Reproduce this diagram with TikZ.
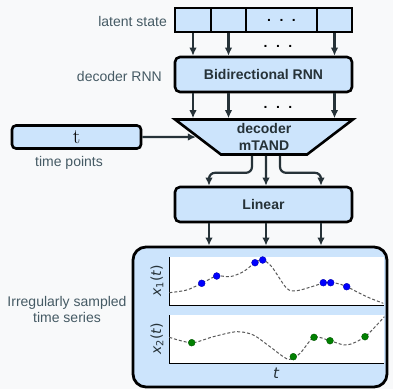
\documentclass[tikz,border=0pt]{standalone}
\usepackage{fontspec}
\setsansfont{Liberation Sans}
\newfontfamily\plotfont{DejaVu Sans}
\usepackage{tikz}
\usetikzlibrary{shapes.geometric}
\usetikzlibrary{arrows.meta}
\tikzset{>={Latex[width=7.5pt,length=8pt]}}
\definecolor{boxblue}{RGB}{204,228,252}
\definecolor{inkc}{RGB}{38,50,56}
\definecolor{lblc}{RGB}{69,90,100}
\definecolor{bgc}{RGB}{248,249,250}
\tikzset{
  blk/.style={draw=black, line width=2.6pt, fill=boxblue, rounded corners=5pt,
    font=\sffamily\bfseries\fontsize{14}{16}\selectfont, text=inkc},
  cell/.style={draw=black, line width=2.6pt, fill=boxblue, minimum height=24pt, inner sep=0pt},
  lbl/.style={font=\sffamily\fontsize{14}{16}\selectfont, text=lblc, inner sep=0pt},
  arr/.style={->, line width=2.2pt, draw=inkc},
  curve/.style={dash pattern=on 3pt off 2pt, line width=1pt, draw=black!65},
  axlbl/.style={rotate=90, font=\plotfont\fontsize{14}{14}\selectfont, text=inkc, inner sep=0pt},
}
\newcommand{\dotrow}{{\sffamily\bfseries\fontsize{14}{16}\selectfont .\hspace{8.5pt}.\hspace{8.5pt}.}}

\begin{document}
\begin{tikzpicture}[x=1pt, y=-1pt]
    \fill[bgc] (0,0) rectangle (393,389);
    \useasboundingbox (0,0) rectangle (393,389);

    % latent state row
    \node[cell, minimum width=36pt] (ls1) at (193,20) {};
    \node[cell, minimum width=35pt] (ls2) at (228.5,20) {};
    \node[cell, minimum width=71pt] (ls3) at (281.5,20) {\dotrow};
    \node[cell, minimum width=35pt] (ls4) at (334.5,20) {};
    \node[lbl, anchor=east] (lslbl) at (167,21.5) {latent state};

    \node (dots1) at (278,46) {\dotrow};

    \node[blk, minimum width=177pt, minimum height=35pt] (rnn) at (263.5,74.5) {Bidirectional RNN};
    \node[lbl, anchor=east] (rnnlbl) at (162,76) {decoder RNN};

    \node (dots2) at (278,107) {\dotrow};

    \node[draw=black, line width=2.6pt, fill=boxblue, trapezium, shape border rotate=180,
      trapezium angle=45, trapezium stretches=true, minimum width=178pt, minimum height=35pt,
      inner sep=2pt, align=center, text=inkc,
      font=\sffamily\bfseries\fontsize{14}{17}\selectfont] (dec) at (264,137) {decoder\\mTAND};

    \node[blk, rounded corners=4pt, minimum width=129pt, minimum height=23pt, inner sep=0pt,
      text=black, font=\rmfamily\fontsize{21}{21}\selectfont] (tbox) at (76.5,137) {t};
    \node[lbl] (tlbl) at (69,163) {time points};

    \node[blk, minimum width=177pt, minimum height=35pt] (lin) at (263.5,204.5) {Linear};

    \node[draw=black, line width=2.8pt, fill=boxblue, rounded corners=13pt,
      minimum width=254pt, minimum height=140pt] (ser) at (260,317) {};
    \node[lbl, align=center] (serlbl) at (67,309) {Irregularly sampled\\time series};

    \foreach \c in {ls1,ls2,ls4} {
      \draw[arr] (\c.south) -- (\c |- rnn.north);
      \draw[arr] (rnn.south -| \c) -- (\c |- dec.north);
    }
    \draw[arr] (tbox) -- (dec);

    \coordinate (o1) at ([xshift=-54.5pt]lin.north);
    \coordinate (o2) at ([xshift=2.5pt]lin.north);
    \coordinate (o3) at ([xshift=57.5pt]lin.north);
    \draw[arr, rounded corners=6pt] ([xshift=-12pt]dec.south) -- ++(0,17) -| (o1);
    \draw[arr] ([xshift=2pt]dec.south) -- (o2);
    \draw[arr, rounded corners=6pt] ([xshift=16pt]dec.south) -- ++(0,17) -| (o3);
    \foreach \o in {o1,o2,o3}
      \draw[arr] (lin.south -| \o) -- (ser.north -| \o);

    % x_1(t)
    \fill[white] (169,257) rectangle (384,305);
    \draw[line width=0.9pt] (169,257) -- (169,305) -- (384,305);
    \draw[curve] plot[smooth] coordinates {(169.3,292.7) (186.7,290) (201.7,283.3) (216.7,276)
      (230,276.7) (243.3,271.7) (255,262.7) (262.7,260) (271.7,266.7) (286.7,288.3)
      (296.7,290.7) (311.7,286.7) (325,282.7) (336.7,283.3) (346.7,286.7) (366.7,296.7) (383.3,303.3)};
    \foreach \x/\y in {201.7/283.3, 216.7/276, 255/262.7, 262.7/260, 323.3/282.7, 330.7/282.7, 346.7/286.7}
      \filldraw[fill=blue, draw=blue!70!black, line width=0.4pt] (\x,\y) circle (3.4pt);
    \node[axlbl] (x1lbl) at (157,281) {{\itshape x}\textsubscript{1}({\itshape t})};

    % x_2(t)
    \fill[white] (169,315) rectangle (384,363);
    \draw[line width=0.9pt] (169,315) -- (169,363) -- (384,363);
    \draw[curve] plot[smooth] coordinates {(169.3,337.3) (191.7,342.7) (213.3,336.7) (236.7,331.7)
      (253.3,335) (270,346.7) (288.3,359.3) (300,353.3) (314,337.3) (330,340.7) (346.7,345)
      (365,336.7) (384.3,316.7)};
    \foreach \x/\y in {191.7/342.7, 293.3/356.7, 314/337.3, 330/340.7, 365/336.7}
      \filldraw[fill=green!50!black, draw=green!35!black, line width=0.4pt] (\x,\y) circle (3.4pt);
    \node[axlbl] (x2lbl) at (157,339) {{\itshape x}\textsubscript{2}({\itshape t})};

    \node[font=\plotfont\itshape\fontsize{15}{15}\selectfont, text=inkc] (tax) at (276,373) {t};
\end{tikzpicture}
\end{document}
